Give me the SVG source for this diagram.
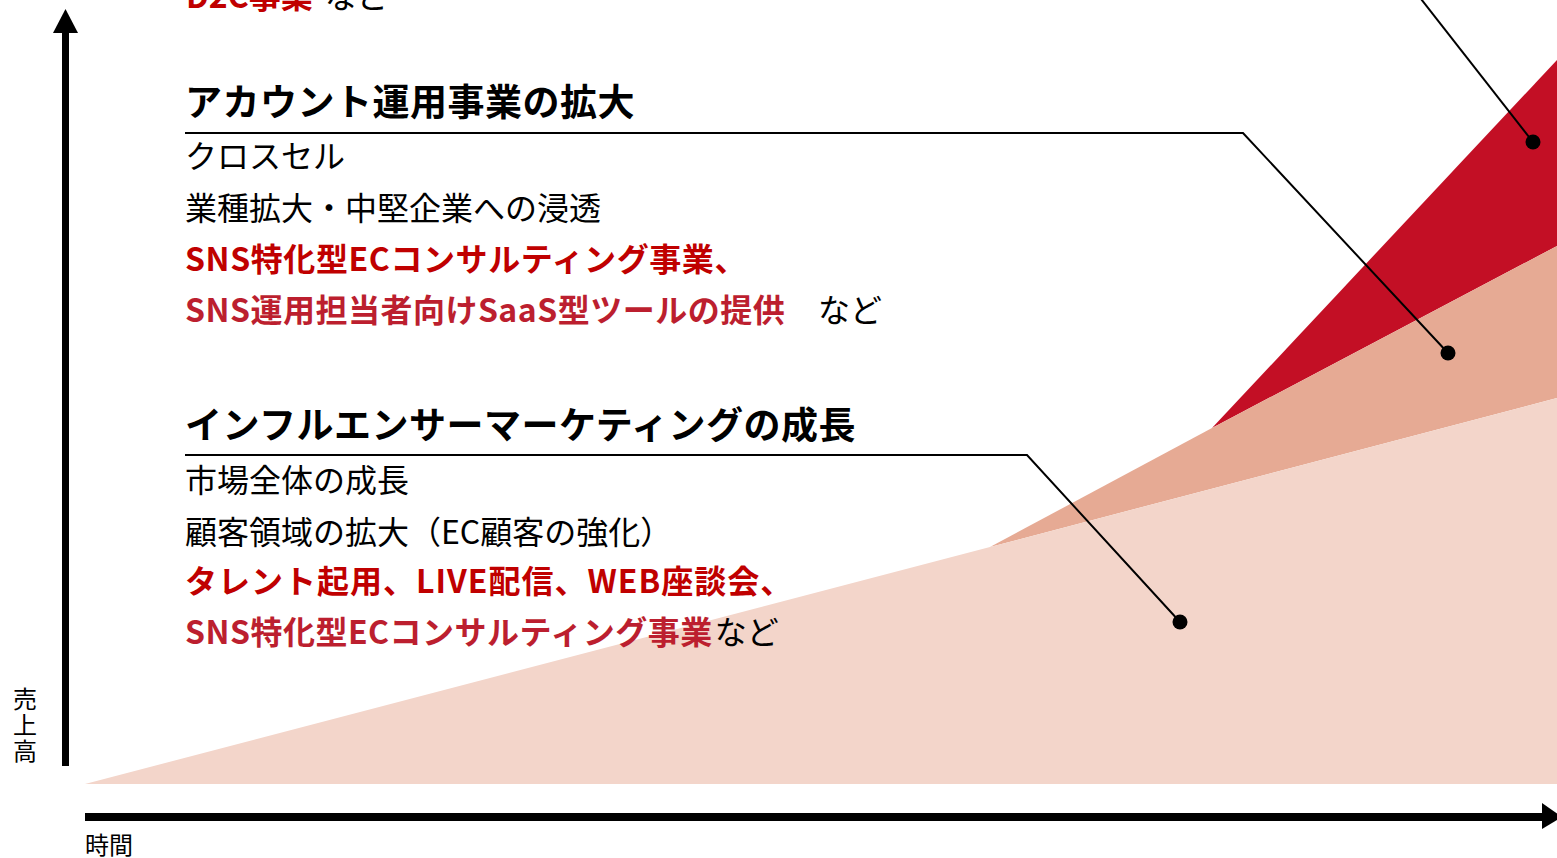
<svg xmlns="http://www.w3.org/2000/svg" width="1557" height="858" viewBox="0 0 1557 858">
  <style>
    text { font-family: "Noto Sans CJK JP", "Noto Sans", sans-serif; }
    .title { font-size: 37px; font-weight: 700; fill: #000; letter-spacing: 0.5px; }
    .body { font-size: 32px; font-weight: 400; fill: #000; letter-spacing: 0; }
    .red1 { font-size: 32px; font-weight: 700; fill: #C00000; }
    .red2 { font-size: 32px; font-weight: 700; fill: #BC1F2F; }
    .axislabel { font-size: 24px; fill: #000; }
    .leader { fill: none; stroke: #000; stroke-width: 2; }
    .dot { fill: #000; }
  </style>
  <rect width="1557" height="858" fill="#fff"/>

  <g id="chart-areas">
    <polygon points="1212,428 1557,60 1557,246" fill="#C30F25"/>
    <polygon points="990,547 1212,428 1557,246 1557,398" fill="#E6AA94"/>
    <polygon points="85,784 990,547 1557,398 1557,784" fill="#F3D5CA"/>
  </g>

  <g id="axes">
    <rect x="62" y="30" width="7" height="736" fill="#000"/>
    <polygon points="65.5,9 53,33 78,33" fill="#000"/>
    <rect x="85" y="813" width="1460" height="8" fill="#000"/>
    <polygon points="1542,803 1562,817 1542,829" fill="#000"/>
    <text id="y-label" x="25" y="687" class="axislabel" style="writing-mode: vertical-rl; letter-spacing: 2px;">売上高</text>
    <text id="x-label" x="85" y="854" class="axislabel">時間</text>
  </g>

  <g id="connectors">
    <polyline class="leader" points="185,133 1243,133 1448,353"/>
    <circle class="dot" cx="1448" cy="353" r="7.5"/>
    <polyline class="leader" points="185,455 1027,455 1180,622"/>
    <circle class="dot" cx="1180" cy="622" r="7.5"/>
    <line class="leader" x1="1414" y1="-10" x2="1533" y2="142"/>
    <circle class="dot" cx="1533" cy="142" r="7.5"/>
  </g>

  <g id="block-d2c">
    <text x="186" y="8" class="red1">D2C事業<tspan class="body" dx="12">など</tspan></text>
  </g>

  <g id="block-account">
    <text x="185" y="116" class="title">アカウント運用事業の拡大</text>
    <text x="185" y="168" class="body">クロスセル</text>
    <text x="185" y="220" class="body">業種拡大・中堅企業への浸透</text>
    <text x="185" y="271" class="red1" style="letter-spacing: 0.6px;">SNS特化型ECコンサルティング事業、</text>
    <text x="185" y="322" class="red2" style="letter-spacing: 0.5px;">SNS運用担当者向けSaaS型ツールの提供</text>
    <text x="818" y="322" class="body">など</text>
  </g>

  <g id="block-influencer">
    <text x="185" y="439" class="title">インフルエンサーマーケティングの成長</text>
    <text x="185" y="492" class="body">市場全体の成長</text>
    <text x="185" y="544" class="body">顧客領域の拡大（EC顧客の強化）</text>
    <text x="185" y="593" class="red1" style="letter-spacing: 1px;">タレント起用、LIVE配信、WEB座談会、</text>
    <text x="185" y="644" class="red2" style="letter-spacing: 0.5px;">SNS特化型ECコンサルティング事業<tspan class="body" dx="2">など</tspan></text>
  </g>
</svg>
